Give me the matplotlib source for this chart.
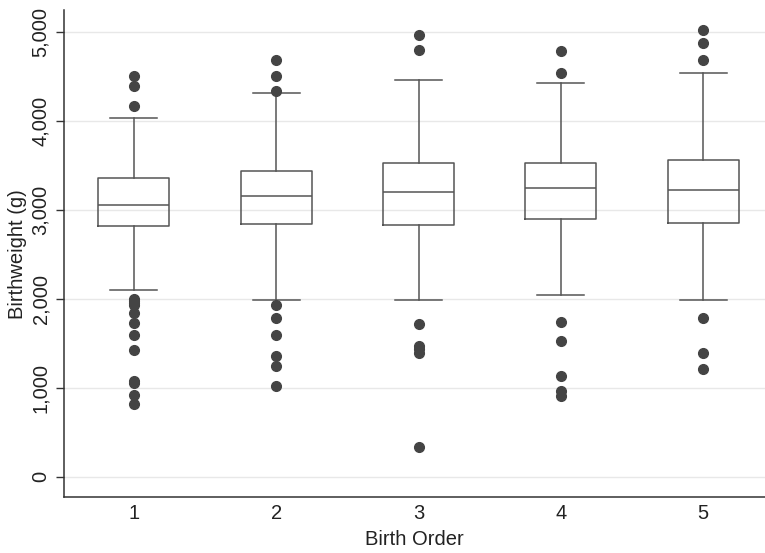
import matplotlib.pyplot as plt
from matplotlib.ticker import FuncFormatter

plt.rcParams['font.family'] = ['Liberation Sans', 'DejaVu Sans']

birth_order = [1, 2, 3, 4, 5]
q1 = [2817, 2839, 2825, 2892, 2851]
median = [3053, 3154, 3202, 3247, 3221]
q3 = [3353, 3431, 3528, 3528, 3555]
whisker_low = [2098, 1985, 1985, 2042, 1985]
whisker_high = [4030, 4311, 4454, 4427, 4540]
outliers = [
    [4506, 4390, 4165, 2000, 1975, 1950, 1925, 1843, 1730, 1592, 1420, 1075, 1049, 918, 813],
    [4679, 4506, 4334, 1933, 1783, 1589, 1360, 1247, 1019],
    [4966, 4791, 1716, 1469, 1430, 1387, 337],
    [4780, 4540, 1742, 1525, 1135, 966, 907],
    [5019, 4876, 4679, 1787, 1390, 1210],
]

stats = []
for i in range(len(birth_order)):
    stats.append({
        'label': str(birth_order[i]),
        'q1': q1[i], 'med': median[i], 'q3': q3[i],
        'whislo': whisker_low[i], 'whishi': whisker_high[i],
        'fliers': outliers[i],
    })

fig = plt.figure(figsize=(7.65, 5.53), dpi=100)
ax = fig.add_axes([0.0837, 0.1007, 0.9163, 0.8813])

line_col = '#555555'
ax.bxp(stats, positions=birth_order, widths=0.5,
       boxprops=dict(color=line_col, linewidth=1.1),
       medianprops=dict(color=line_col, linewidth=1.1),
       whiskerprops=dict(color=line_col, linewidth=1.1),
       capprops=dict(color=line_col, linewidth=1.1),
       capwidths=0.33,
       flierprops=dict(marker='o', markerfacecolor='#444444', markeredgecolor='#444444',
                       markersize=7, linestyle='none'))

ax.set_xlim(0.51, 5.434)
ax.set_ylim(-231, 5244)
ax.set_yticks([0, 1000, 2000, 3000, 4000, 5000])
ax.yaxis.set_major_formatter(FuncFormatter(lambda v, p: f'{int(v):,}'))
ax.grid(axis='y', color='#e8e8e8', linewidth=1)
ax.set_axisbelow(True)

for s in ['top', 'right']:
    ax.spines[s].set_visible(False)
for s in ['left', 'bottom']:
    ax.spines[s].set_color('#333333')
    ax.spines[s].set_linewidth(1.1)

ax.tick_params(axis='x', length=0, pad=5, labelsize=14.5, colors='#222222')
ax.tick_params(axis='y', length=6, width=1, pad=4, labelsize=14.5, color='#333333',
               labelcolor='#222222', labelrotation=90)
for lab in ax.get_yticklabels():
    lab.set_va('center')

ax.set_xlabel('Birth Order', fontsize=14.5, color='#222222', labelpad=5)
ax.set_ylabel('Birthweight (g)', fontsize=14.5, color='#222222')
ax.yaxis.set_label_coords(-0.053, 0.5)

fig.savefig('out.png', dpi=100)
